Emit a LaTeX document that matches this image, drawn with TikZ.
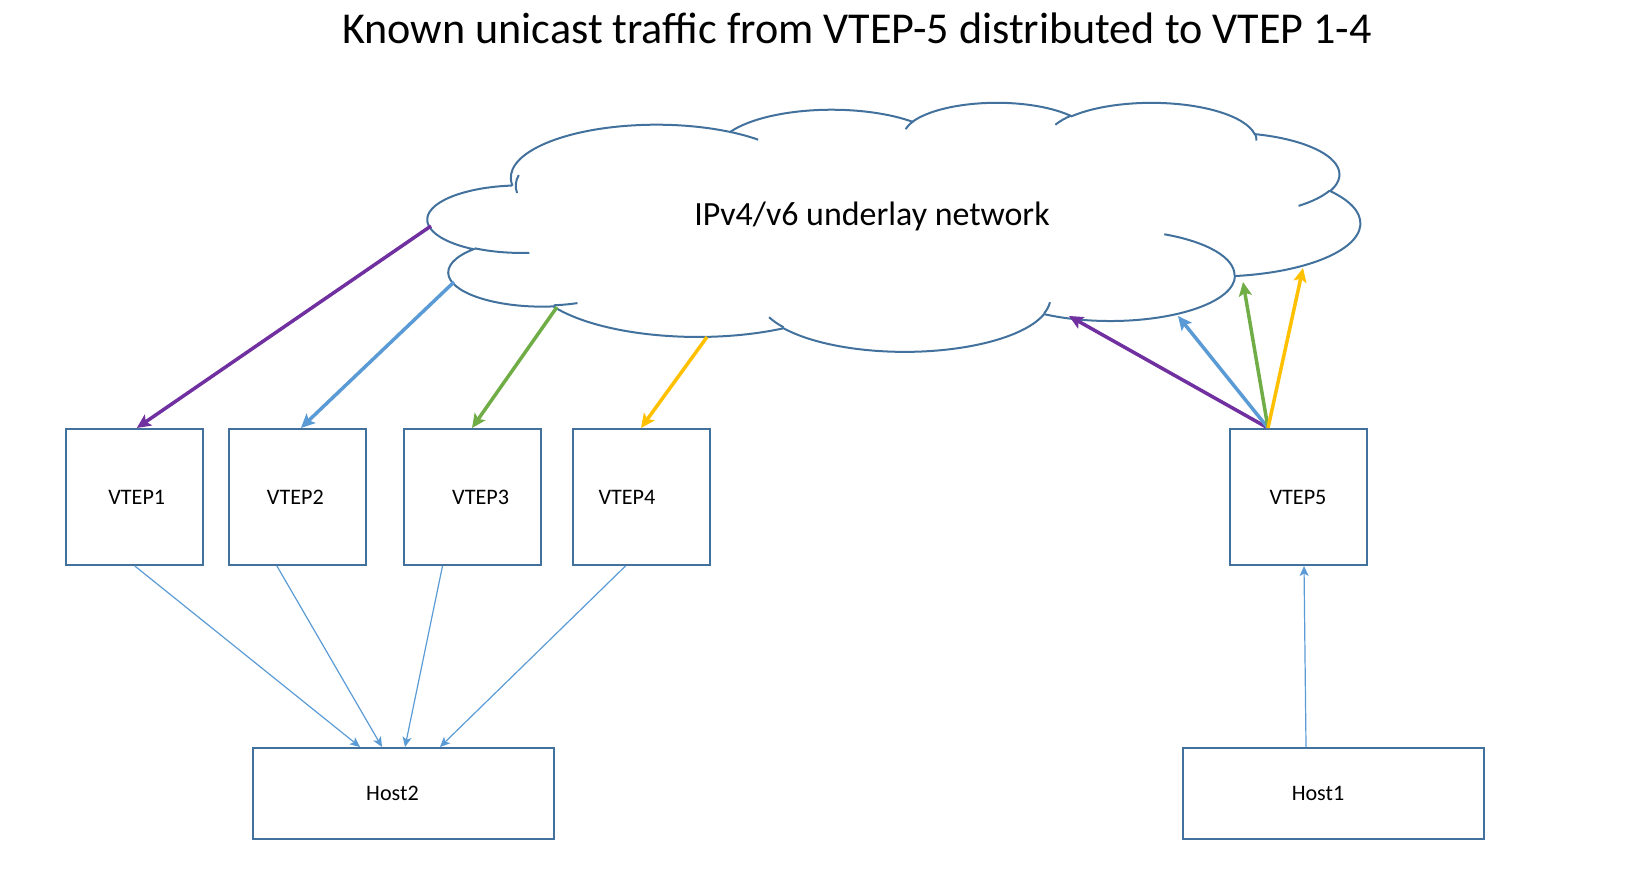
\documentclass[tikz,border=0pt]{standalone}
\usepackage{fontspec}
\setmainfont{Carlito}
\usetikzlibrary{arrows.meta}
\definecolor{boxline}{RGB}{65,113,156}
\definecolor{vpurple}{RGB}{112,48,160}
\definecolor{vblue}{RGB}{91,155,213}
\definecolor{vgreen}{RGB}{112,173,71}
\definecolor{vgold}{RGB}{255,192,0}

% parametric offset of an ellipse angle, and one lobe of the cloud
\newcommand\cdev[3]{(atan2((#1)*sin(#3),(#2)*cos(#3))-(#3)-360*round((atan2((#1)*sin(#3),(#2)*cos(#3))-(#3))/360))}
\newcommand\puff[4]{arc[x radius=#1, y radius=#2, start angle={#3+\cdev{#1}{#2}{#3}}, delta angle={#4+\cdev{#1}{#2}{(#3)+(#4)}-\cdev{#1}{#2}{#3}}]}

\begin{document}
\begin{tikzpicture}[
  vtep/.style={rectangle, draw=boxline, line width=0.02cm, minimum width=1.37cm, minimum height=1.36cm},
  host/.style={rectangle, draw=boxline, line width=0.02cm, minimum width=3.01cm, minimum height=0.91cm},
  tag/.style={font=\fontsize{6.3}{7}\selectfont},
  cloudline/.style={draw=boxline, line width=0.02cm},
  flow/.style={-{Stealth[length=0.14cm, width=0.13cm, inset=0.03cm]}, line width=0.035cm},
  link/.style={-{Stealth[length=0.10cm, width=0.09cm, inset=0.025cm]}, draw=vblue, line width=0.012cm},
]
  \useasboundingbox (0,0) rectangle (16.49,8.96);

  \node[font=\fontsize{12.55}{15}\selectfont, anchor=base] (title) at (8.57, 8.52)
    {Known unicast traffic from VTEP-5 distributed to VTEP 1-4};

  % underlay cloud
  \begin{scope}[shift={(4.28,7.94)}, xscale=0.215741, yscale=-0.057639]
    \draw[cloudline] (3.900,14.370)
      \puff{6.753}{9.190}{-190.48748}{123.78053}
      \puff{5.333}{7.267}{-144.10238}{89.94523}
      \puff{4.365}{5.945}{-145.80792}{99.72302}
      \puff{4.857}{6.595}{-130.98607}{117.24173}
      \puff{5.333}{7.273}{-78.70888}{109.02692}
      \puff{6.775}{9.220}{-46.26725}{130.269}
      \puff{5.785}{7.867}{0.62502}{114.03333}
      \puff{6.752}{9.215}{22.4516}{115.17255}
      \puff{7.720}{10.543}{66.24263}{75.71102}
      \puff{4.360}{5.918}{-274.94208}{146.73557}
      \puff{4.345}{5.945}{-246.8285}{152.51885} -- cycle;
    \draw[cloudline]
      (4.693,26.177) \puff{4.345}{5.945}{86.742}{26.4295}
      (6.928,34.899) \puff{4.360}{5.918}{73.61047}{11.44747}
      (16.478,39.090) \puff{6.752}{9.215}{137.62415}{14.0811}
      (28.827,34.751) \puff{6.752}{9.215}{6.45327}{15.99835}
      (34.129,22.954) \puff{5.785}{7.867}{-70.29235}{70.91737}
      (41.798,15.354) \puff{5.333}{7.273}{30.31803}{27.7515}
      (38.324,5.426) \puff{4.857}{6.595}{-13.74433}{14.8589}
      (29.078,3.952) \puff{4.857}{6.595}{-149.18145}{18.19537}
      (22.141,4.720) \puff{4.365}{5.945}{-163.49427}{17.68635}
      (14.000,5.192) \puff{6.753}{9.190}{-66.70695}{12.31935}
      (4.127,15.789) \puff{6.753}{9.190}{-190.48748}{26.3046};
  \end{scope}
  \node[font=\fontsize{9.65}{11}\selectfont, anchor=base] (net) at (8.72, 6.703) {IPv4/v6 underlay network};

  % points where the flows meet the cloud
  \coordinate (out1) at (4.31, 6.70);
  \coordinate (out2) at (4.54, 6.14);
  \coordinate (out3) at (5.57, 5.89);
  \coordinate (out4) at (7.07, 5.59);
  \coordinate (in1) at (10.69, 5.80);
  \coordinate (in2) at (11.78, 5.80);
  \coordinate (in3) at (12.43, 6.14);
  \coordinate (in4) at (13.03, 6.28);

  \node[vtep, label={[tag, xshift=0.02cm]center:VTEP1}] (v1) at (1.348, 3.99) {};
  \node[vtep, label={[tag, xshift=-0.025cm]center:VTEP2}] (v2) at (2.979, 3.99) {};
  \node[vtep, label={[tag, xshift=0.086cm]center:VTEP3}] (v3) at (4.72, 3.99) {};
  \node[vtep, label={[tag, xshift=-0.14cm]center:VTEP4}] (v4) at (6.41, 3.99) {};
  \node[vtep, label={[tag]center:VTEP5}] (v5) at (12.98, 3.99) {};
  \node[host, label={[tag, xshift=-0.11cm]center:Host2}] (h2) at (4.035, 1.025) {};
  \node[host, label={[tag, xshift=-0.15cm]center:Host1}] (h1) at (13.33, 1.025) {};

  % VTEP-5 into the underlay
  \draw[flow, vpurple] ([xshift=-0.30cm]v5.north) -- (in1);
  \draw[flow, vblue] ([xshift=-0.30cm]v5.north) -- (in2);
  \draw[flow, vgreen] ([xshift=-0.30cm]v5.north) -- (in3);
  \draw[flow, vgold] ([xshift=-0.30cm]v5.north) -- (in4);

  % underlay out to VTEP 1-4
  \draw[flow, vpurple] (out1) -- ([xshift=0.02cm]v1.north);
  \draw[flow, vblue] (out2) -- ([xshift=0.03cm]v2.north);
  \draw[flow, vgreen] (out3) -- (v3.north);
  \draw[flow, vgold] (out4) -- (v4.north);

  % host links
  \draw[link] (h1.north) ++(-0.27,0) -- ([xshift=0.06cm]v5.south);
  \draw[link] (v1.south) -- ([xshift=-0.435cm]h2.north);
  \draw[link] ([xshift=-0.21cm]v2.south) -- ([xshift=-0.215cm]h2.north);
  \draw[link] ([xshift=-0.295cm]v3.south) -- ([xshift=0.015cm]h2.north);
  \draw[link] ([xshift=-0.155cm]v4.south) -- ([xshift=0.365cm]h2.north);
\end{tikzpicture}
\end{document}
